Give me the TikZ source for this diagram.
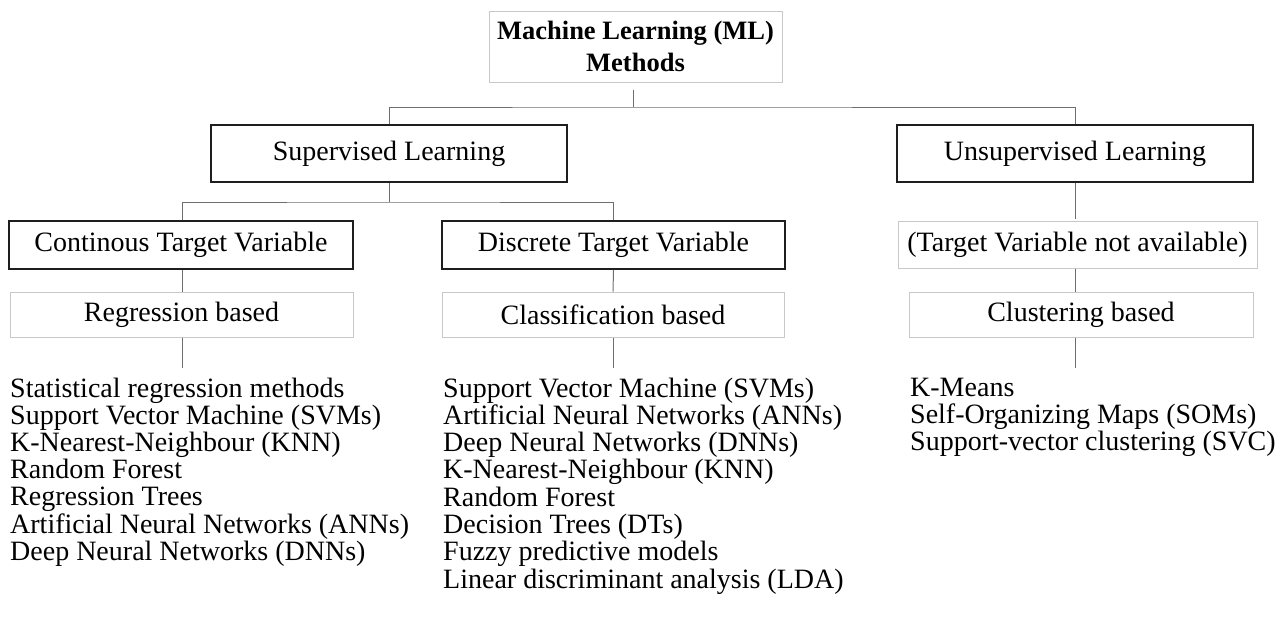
\documentclass[tikz,border=0pt]{standalone}
\usepackage{fontspec}
\setmainfont{Liberation Serif}
\usetikzlibrary{positioning}
\definecolor{edgegray}{HTML}{6E6E6E}
\definecolor{softgray}{HTML}{C8C8C8}
\definecolor{inkdark}{HTML}{1E1E1E}
\tikzset{
  heavybox/.style={draw=inkdark, line width=1.6pt, inner sep=0pt, font=\fontsize{28}{30}\selectfont},
  lightbox/.style={draw=softgray, line width=1pt, inner sep=0pt, font=\fontsize{28}{30}\selectfont},
  link/.style={draw=edgegray, line width=1pt},
  item/.style={anchor=base west, inner sep=0pt, font=\fontsize{28}{30}\selectfont}
}
\begin{document}
\begin{tikzpicture}[x=1pt, y=-1pt]
\useasboundingbox (0,0) rectangle (1283,641);

% root
\node[lightbox, minimum width=293pt, minimum height=71pt, align=center,
      font=\fontsize{26.5}{32}\selectfont\bfseries] (root) at (635.5,46.5)
      {Machine Learning (ML)\\Methods};

% second level
\node[heavybox, minimum width=356pt, minimum height=57pt] (sup) at (389,153.5) {Supervised Learning};
\node[heavybox, minimum width=356pt, minimum height=57pt] (uns) at (1075,153.5) {Unsupervised Learning};

% third level
\node[heavybox, minimum width=344pt, minimum height=48pt] (cont) at (181,245) {Continous Target Variable};
\node[heavybox, minimum width=343pt, minimum height=48pt] (disc) at (613.5,245) {Discrete Target Variable};
\node[lightbox, minimum width=359pt, minimum height=47pt] (tna) at (1077.5,244.5) {(Target Variable not available)};

% method families
\node[lightbox, minimum width=343pt, minimum height=45pt] (reg) at (181.5,314.5) {Regression based};
\node[lightbox, minimum width=342pt, minimum height=45pt] (cls) at (613,314.5) {Classification based};
\node[lightbox, minimum width=344pt, minimum height=45pt] (clu) at (1081,314.5) {Clustering based};

% junctions
\coordinate (j1) at (633,107);
\coordinate (j2) at (389,202);
\coordinate (e1) at (182,368);
\coordinate (e2) at (613,368);
\coordinate (e3) at (1075,368);

% connectors
\draw[link, shorten <=7pt] (root.south -| j1) -- (j1);
\draw[link] (sup.north) |- (j1) -| (uns.north);
\draw[link] (sup.south) -- (j2);
\draw[link] (cont.north -| e1) |- (j2) -| (disc.north);
\draw[link] (cont.south -| e1) -- (reg.north -| e1);
\draw[link] (disc.south) -- (cls.north);
\draw[link] (uns.south) -- ++(0,36);
\draw[link] (tna.south -| uns.south) -- (clu.north -| uns.south);
\draw[link] (reg.south -| e1) -- (e1);
\draw[link] (cls.south -| e2) -- (e2);
\draw[link] (clu.south -| e3) -- (e3);

% method lists
\foreach \t [count=\i from 0] in {Statistical regression methods,
    Support Vector Machine (SVMs), K-Nearest-Neighbour (KNN), Random Forest,
    Regression Trees, Artificial Neural Networks (ANNs), Deep Neural Networks (DNNs)}
  \node[item] (ra\i) at (10, 397+27.2*\i) {\t};

\foreach \t [count=\i from 0] in {Support Vector Machine (SVMs),
    Artificial Neural Networks (ANNs), Deep Neural Networks (DNNs),
    K-Nearest-Neighbour (KNN), Random Forest, Decision Trees (DTs),
    Fuzzy predictive models, Linear discriminant analysis (LDA)}
  \node[item] (ca\i) at (443, 397+27.3*\i) {\t};

\foreach \t [count=\i from 0] in {K-Means, Self-Organizing Maps (SOMs),
    Support-vector clustering (SVC)}
  \node[item] (ka\i) at (910, 396+27.2*\i) {\t};
\end{tikzpicture}
\end{document}
